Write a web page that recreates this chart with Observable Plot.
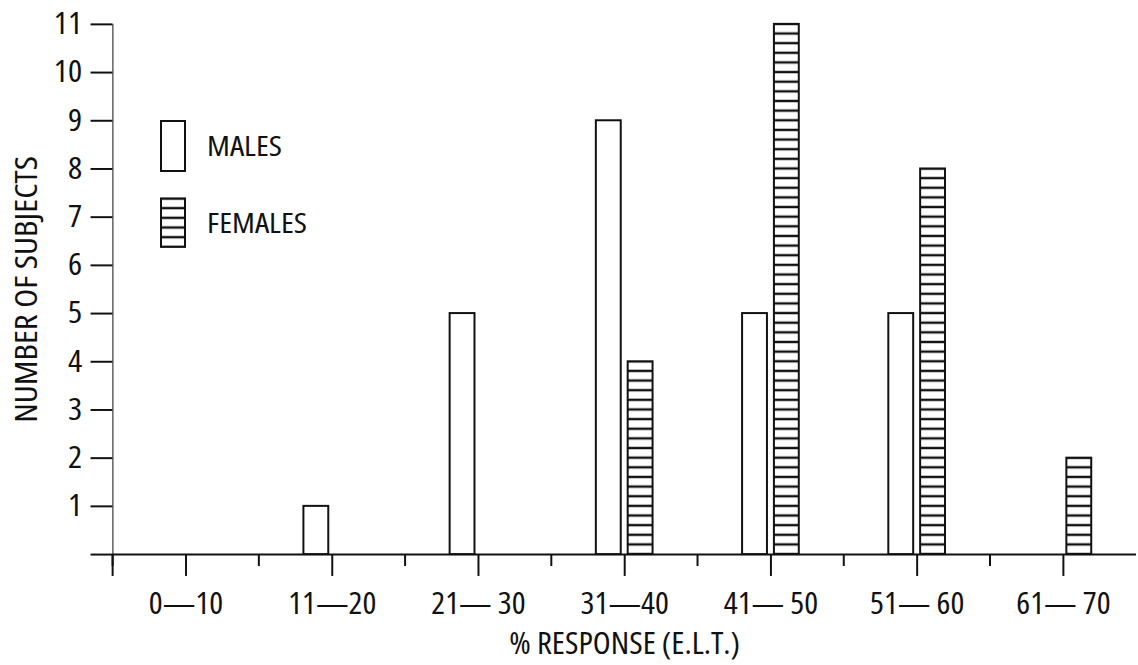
<!DOCTYPE html>
<html>
<head>
<meta charset="utf-8">
<script src="https://cdn.jsdelivr.net/npm/d3@7"></script>
<script src="https://cdn.jsdelivr.net/npm/@observablehq/plot@0.6"></script>
<style>
  html, body { margin: 0; padding: 0; background: #fff; overflow: hidden; }
  #wrap { position: relative; width: 1138px; height: 665px; overflow: hidden; }
  #chart svg, #legend { font-family: 'Open Sans', 'DejaVu Sans Condensed', sans-serif; font-stretch: 75%; font-weight: 500; }
  #chart svg g[aria-label$="tick"] { stroke-width: 2px; }
  #chart svg g[aria-label$="axis line"] { stroke-width: 2px; }
  #legend { position: absolute; left: 0; top: 0; }
</style>
</head>
<body>
<div id="wrap">
  <div id="chart"></div>
  <svg id="legend" width="400" height="300"></svg>
</div>
<script>
// ---- data ----
const categories = ["0—10", "11—20", "21— 30", "31—40", "41— 50", "51— 60", "61— 70"];
const sexes = ["MALES", "FEMALES"];
const males   = [0, 1, 5, 9, 5, 5, 0];
const females = [0, 0, 0, 4, 11, 8, 2];
const yTicks = [0, 1, 2, 3, 4, 5, 6, 7, 8, 9, 10, 11];

const rows = [];
categories.forEach((c, i) => {
  rows.push({cat: c, sex: "MALES", n: males[i]});
  rows.push({cat: c, sex: "FEMALES", n: females[i]});
});
const bars = rows.filter(d => d.n > 0);

const FONT = "'Open Sans', 'DejaVu Sans Condensed', sans-serif";
const INK = "#111";
const W = 1144, H = 665, ML = 111, MR = 0, MT = 24, MB = 108;
const step = (W - ML - MR) / categories.length;

const chart = Plot.plot({
  width: W, height: H,
  marginLeft: ML, marginRight: MR, marginTop: MT, marginBottom: MB,
  style: {fontFamily: FONT, fontSize: "31px", color: INK, background: "transparent", overflow: "visible"},
  fx: {domain: categories, padding: 0},
  x: {domain: sexes, paddingInner: 0.212, paddingOuter: 1.342, axis: null},
  y: {domain: [0, 11], ticks: yTicks, tickSize: 22, tickPadding: 9, line: true,
      tickFormat: d => d === 0 ? "" : String(d),
      label: "NUMBER OF SUBJECTS", labelAnchor: "center", labelArrow: "none", labelOffset: 98},
  marks: [
    Plot.axisFx({anchor: "bottom", tickSize: 22, tickPadding: 16, strokeWidth: 2,
                 label: "% RESPONSE (E.L.T.)", labelAnchor: "center", labelArrow: "none", labelOffset: 100,
                 fontSize: 31}),
    Plot.axisFx({anchor: "bottom", tickSize: 12, strokeWidth: 2, dx: -step / 2,
                 tickFormat: () => "", label: null}),
    Plot.axisFx({anchor: "bottom", ticks: [categories[0]], tickSize: 22, strokeWidth: 2, dx: -step / 2,
                 tickFormat: () => "", label: null}),
    Plot.ruleY(categories, {fx: d => d, y: () => 0, stroke: INK, strokeWidth: 2}),
    Plot.barY(bars, {fx: "cat", x: "sex", y: "n",
      fill: d => d.sex === "MALES" ? "#fff" : "url(#stripes)",
      stroke: INK, strokeWidth: 2})
  ]
});
document.getElementById("chart").append(chart);

// widen the condensed glyphs slightly to match the original lettering
function stretch(sel, k) {
  d3.selectAll(sel).each(function () {
    const len = this.getComputedTextLength();
    if (len > 0) {
      this.setAttribute("textLength", len * k);
      this.setAttribute("lengthAdjust", "spacingAndGlyphs");
    }
  });
}
stretch('#chart svg g[aria-label="y-axis label"] text', 1.13);
stretch('#chart svg g[aria-label="fx-axis label"] text', 1.065);
stretch('#chart svg g[aria-label="fx-axis tick label"] text', 1.06);
stretch('#chart svg g[aria-label="y-axis tick label"] text', 1.08);

// stripe pattern aligned to the y scale (one line every 0.2 units)
const ys = chart.scale("y");
const y0 = ys.apply(0);
const h = ys.apply(0) - ys.apply(0.2);
const leg = d3.select("#legend");
const defs = leg.append("defs");
const pat = defs.append("pattern").attr("id", "stripes")
  .attr("patternUnits", "userSpaceOnUse")
  .attr("width", 50).attr("height", h).attr("x", 0).attr("y", y0);
pat.append("rect").attr("width", 50).attr("height", h).attr("fill", "#fff");
pat.append("line").attr("x1", 0).attr("x2", 50).attr("y1", 0).attr("y2", 0)
  .attr("stroke", INK).attr("stroke-width", 2.4);
pat.append("line").attr("x1", 0).attr("x2", 50).attr("y1", h).attr("y2", h)
  .attr("stroke", INK).attr("stroke-width", 2.4);

// legend
const legendItems = [
  {label: sexes[0], fill: "#fff", top: 121, hgt: 50},
  {label: sexes[1], fill: "url(#stripes)", top: y0 - 37 * h, hgt: 5 * h}
];
legendItems.forEach(it => {
  leg.append("rect").attr("x", 161).attr("y", it.top).attr("width", 24).attr("height", it.hgt)
    .attr("fill", it.fill).attr("stroke", INK).attr("stroke-width", 2);
  leg.append("text").attr("x", 207).attr("y", it.top + it.hgt / 2)
    .attr("dy", "0.36em").attr("fill", INK)
    .style("font-size", "28px")
    .text(it.label);
});
stretch('#legend text', 1.15);
</script>
</body>
</html>
